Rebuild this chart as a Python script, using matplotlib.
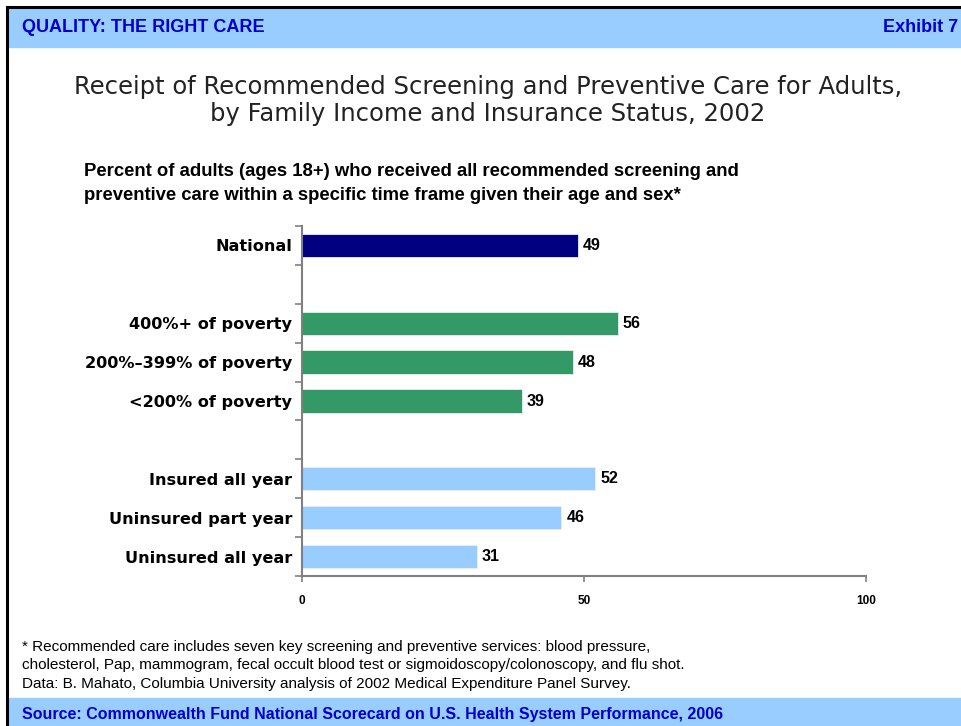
import numpy as np
import matplotlib.pyplot as plt
from matplotlib.patches import Rectangle
from matplotlib.lines import Line2D

# Percent of adults who received all recommended screening and preventive care
national_label = ["National"]
national_values = [49]
income_labels = ["400%+ of poverty", "200%\u2013399% of poverty", "<200% of poverty"]
income_values = [56, 48, 39]
insurance_labels = ["Insured all year", "Uninsured part year", "Uninsured all year"]
insurance_values = [52, 46, 31]
x_ticks = [0, 50, 100]

NAVY = "#000080"
GREEN = "#339966"
LIGHT_BLUE = "#99CCFF"
HEAD_BLUE = "#0000CC"

W, H = 962, 726
fig = plt.figure(figsize=(W / 100, H / 100), dpi=100)


def fx(px):
    return px / W


def fy(py):
    return 1 - py / H


# header / footer bands and the black frame
fig.patches.append(Rectangle((fx(9), fy(47)), 1 - fx(9), (47 - 8) / H,
                             transform=fig.transFigure, color=LIGHT_BLUE, zorder=0))
fig.patches.append(Rectangle((fx(9), 0), 1 - fx(9), (H - 698) / H,
                             transform=fig.transFigure, color=LIGHT_BLUE, zorder=0))
fig.lines.append(Line2D([fx(7), 1], [fy(6.5), fy(6.5)], transform=fig.transFigure,
                        color="black", lw=2.2))
fig.lines.append(Line2D([fx(7.5), fx(7.5)], [fy(6.5), 0], transform=fig.transFigure,
                        color="black", lw=2.2))

fig.text(fx(22), fy(28), "QUALITY: THE RIGHT CARE", color=HEAD_BLUE, fontsize=13,
         fontweight="bold", family="Liberation Sans", va="center", ha="left")
fig.text(fx(958), fy(28), "Exhibit 7", color=HEAD_BLUE, fontsize=13,
         fontweight="bold", family="Liberation Sans", va="center", ha="right")
fig.text(fx(22), fy(714),
         "Source: Commonwealth Fund National Scorecard on U.S. Health System Performance, 2006",
         color=HEAD_BLUE, fontsize=11.5, fontweight="bold", family="Liberation Sans",
         va="center", ha="left")

# title
fig.text(fx(488), fy(87), "Receipt of Recommended Screening and Preventive Care for Adults,",
         fontsize=17.5, color="#222222", ha="center", va="center", family="DejaVu Sans")
fig.text(fx(488), fy(114), "by Family Income and Insurance Status, 2002",
         fontsize=17.5, color="#222222", ha="center", va="center", family="DejaVu Sans")

# subtitle
fig.text(fx(84), fy(172),
         "Percent of adults (ages 18+) who received all recommended screening and",
         fontsize=13.3, fontweight="bold", family="Liberation Sans", va="center")
fig.text(fx(84), fy(196),
         "preventive care within a specific time frame given their age and sex*",
         fontsize=13.3, fontweight="bold", family="Liberation Sans", va="center")

# footnotes
notes = [
    "* Recommended care includes seven key screening and preventive services: blood pressure,",
    "cholesterol, Pap, mammogram, fecal occult blood test or sigmoidoscopy/colonoscopy, and flu shot.",
    "Data: B. Mahato, Columbia University analysis of 2002 Medical Expenditure Panel Survey.",
]
for i, line in enumerate(notes):
    fig.text(fx(22), fy(647 + i * 18.5), line, fontsize=11, family="Liberation Sans",
             va="center", ha="left")

# bar chart: groups separated by one empty slot
groups = [
    (national_label, national_values, NAVY),
    (income_labels, income_values, GREEN),
    (insurance_labels, insurance_values, LIGHT_BLUE),
]
ax = fig.add_axes([fx(302), fy(576), fx(866) - fx(302), (576 - 226) / H])

labels, positions = [], []
slot = 0
for names, vals, color in groups:
    pos = np.arange(slot, slot + len(vals))
    bars = ax.barh(pos, vals, height=0.6, color=color, edgecolor="#e8f0f0", linewidth=0.6)
    ax.bar_label(bars, labels=[str(v) for v in vals], padding=3.5, fontsize=11.5,
                 fontweight="bold", family="Liberation Sans")
    labels += names
    positions += list(pos)
    slot += len(vals) + 1

n_slots = slot - 1
ax.set_ylim(n_slots - 0.5, -0.5)
ax.set_xlim(0, 100)

ax.set_yticks(positions)
ax.set_yticklabels(labels, fontsize=11.6, fontweight="bold", family="DejaVu Sans")
ax.tick_params(axis="y", which="major", length=0, pad=7.2)
ax.set_yticks(np.arange(-0.5, n_slots, 1.0), minor=True)
ax.tick_params(axis="y", which="minor", length=5, width=1.2, color="#808080", direction="out")

ax.set_xticks(x_ticks)
ax.set_xticklabels([str(t) for t in x_ticks], fontsize=8.5, fontweight="bold",
                   family="Liberation Sans")
ax.tick_params(axis="x", length=4, width=1.2, color="#808080", direction="out", pad=10)

for side in ["top", "right"]:
    ax.spines[side].set_visible(False)
for side in ["left", "bottom"]:
    ax.spines[side].set_color("#808080")
    ax.spines[side].set_linewidth(1.5)

fig.savefig("out.png", dpi=100)
